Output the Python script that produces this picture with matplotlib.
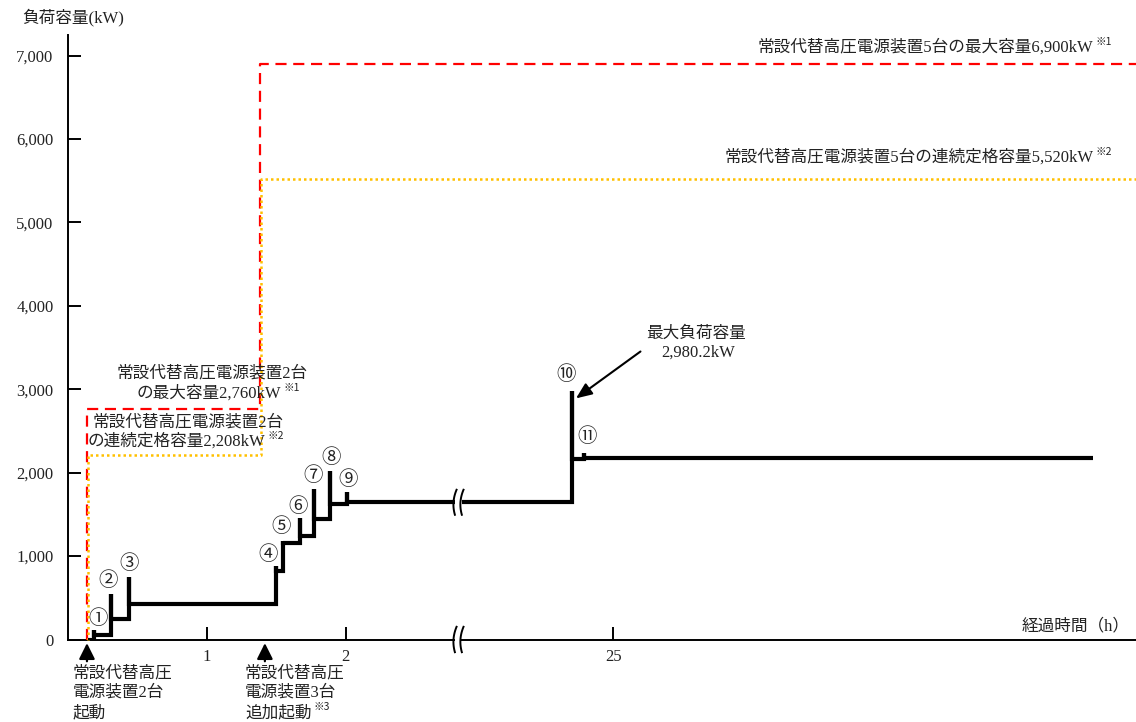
import numpy as np
import matplotlib
matplotlib.use("Agg")
import matplotlib.pyplot as plt
import matplotlib.transforms as mtrans
from matplotlib.patches import Rectangle
from matplotlib.text import Annotation

# ---------------- data ----------------
event_labels = ["①", "②", "③", "④", "⑤", "⑥", "⑦", "⑧", "⑨", "⑩", "⑪"]
start_time = 0.15                      # h, load line starts
event_times = [0.19, 0.31, 0.44, 1.50, 1.55, 1.67, 1.77, 1.89, 2.01, 24.70, 24.79]
peak_load = [110, 550, 750, 880, 1180, 1455, 1805, 2015, 1765, 2980.2, 2240]
steady_load = [55, 240, 430, 820, 1155, 1235, 1440, 1620, 1645, 2165, 2180]
end_time = 28.45

cap_times = [0.14, 1.385]              # 2 units start / 3 more units start
cap_max = [2760, 6900]                 # kW
cap_cont = [2208, 5520]                # kW
start_arrow_times = [0.14, 1.42]

y_ticks = [0, 1000, 2000, 3000, 4000, 5000, 6000, 7000]
y_tick_labels = ["0", "1,000", "2,000", "3,000", "4,000", "5,000", "6,000", "7,000"]
x_ticks = [1, 2, 25]
x_tick_labels = ["1", "2", "25"]

# ---------------- broken time axis ----------------
B1 = 2.81
OFF = 21.072
B2 = B1 + OFF


def fwd(t):
    t = np.asarray(t, dtype=float)
    out = np.where(t <= B1, t, np.where(t >= B2, t - OFF, B1))
    return np.where(np.isnan(t), np.nan, out)


def inv(u):
    u = np.asarray(u, dtype=float)
    return np.where(u <= B1, u, u + OFF)


plt.rcParams["font.family"] = ["Liberation Serif", "Noto Sans CJK JP"]
TXT = "#222222"
FS = 12

W, H = 1136, 722
fig = plt.figure(figsize=(W / 100, H / 100), dpi=100)
ax = fig.add_axes([67.5 / W, (H - 639.5) / H, 1 - 67.5 / W, 604.5 / H])
ax.set_xscale("function", functions=(fwd, inv))
x_right = float(inv(7.687))
ax.set_xlim(0, x_right)
ax.set_ylim(0, 7246)

for s in ["top", "right"]:
    ax.spines[s].set_visible(False)
for s in ["left", "bottom"]:
    ax.spines[s].set_linewidth(1.4)
    ax.spines[s].set_color("black")

ax.set_yticks(y_ticks)
ax.set_yticklabels(y_tick_labels)
ax.set_xticks(x_ticks)
ax.set_xticklabels(x_tick_labels)
ax.minorticks_off()
ax.tick_params(axis="both", direction="in", length=9.4, width=1.4, colors="black",
               labelsize=FS, labelcolor=TXT)
ax.tick_params(axis="y", pad=10)
ax.tick_params(axis="x", pad=7)

# ---------------- capacity lines ----------------
ax.plot([cap_times[0], cap_times[0], cap_times[1], cap_times[1], x_right],
        [0, cap_max[0], cap_max[0], cap_max[1], cap_max[1]],
        color="#ff0000", lw=1.6, dashes=(5, 3), zorder=3, clip_on=False)
ax.plot([cap_times[0] + 0.005, cap_times[0] + 0.005, cap_times[1] + 0.005, cap_times[1] + 0.005, x_right],
        [0, cap_cont[0], cap_cont[0], cap_cont[1], cap_cont[1]],
        color="#ffc000", lw=1.8, linestyle=(0, (1, 1.2)), zorder=3, clip_on=False)

# ---------------- load step line ----------------
xs = [start_time]
ys = [0.0]
prev = 0.0
for t, p, s in zip(event_times, peak_load, steady_load):
    xs += [t, t, t]
    ys += [prev, p, s]
    prev = s
xs.append(end_time)
ys.append(prev)
xs = np.array(xs, dtype=float)
ys = np.array(ys, dtype=float)

gap_lo = float(inv(2.785))
gap_hi = float(inv(2.835))
k = int(np.argmax(xs > gap_lo))
level = ys[k - 1]
xs = np.concatenate([xs[:k], [gap_lo, np.nan, gap_hi], xs[k:]])
ys = np.concatenate([ys[:k], [level, np.nan, level], ys[k:]])
ax.plot(xs, ys, color="black", lw=3.0, solid_joinstyle="miter",
        solid_capstyle="butt", zorder=4)

# ---------------- break marks ----------------
s_ = np.linspace(-1, 1, 25)
blend = mtrans.blended_transform_factory(ax.transData, ax.transAxes)
for uc in (2.785, 2.835):
    uu = uc + 0.016 * (s_ ** 2) - 0.008 + 0.006 * s_
    ax.plot(inv(uu), level + 150 * s_, color="black", lw=1.4, zorder=5)
    ax.plot(inv(uu), 0.021 * s_, color="black", lw=1.4, zorder=5,
            transform=blend, clip_on=False)
ax.add_patch(Rectangle((float(inv(2.79)), -0.006), float(inv(2.83)) - float(inv(2.79)), 0.012,
                       transform=blend, facecolor="white", edgecolor="none",
                       zorder=4, clip_on=False))

# ---------------- event labels ----------------
label_off_px = [(4, 12), (-2, 13), (0, 13), (-8, 12), (-2, 15), (-2, 12),
                (0, 13), (1, 14), (1, 13), (-6, 16), (3, 16)]
for lbl, t, p, (dx, dy) in zip(event_labels, event_times, peak_load, label_off_px):
    ax.annotate(lbl, xy=(t, p), xytext=(dx * 0.72, dy * 0.72), textcoords="offset points",
                ha="center", va="center", fontsize=14, color=TXT,
                family=["Noto Sans CJK JP"], zorder=6)


def sup(artist, s):
    ax.annotate(s, xy=(1, 0.55), xycoords=artist, xytext=(1.5, 0), textcoords="offset points",
                ha="left", va="bottom", fontsize=7.5, color=TXT,
                family=["Noto Sans CJK JP", "Liberation Serif"])


# 5-unit capacity texts
t1 = ax.text(28.453, 7096, f"常設代替高圧電源装置5台の最大容量{cap_max[1]:,}kW",
             ha="right", va="center", fontsize=FS, color=TXT, zorder=6)
sup(t1, "※1")
t2 = ax.text(28.453, 5777, f"常設代替高圧電源装置5台の連続定格容量{cap_cont[1]:,}kW",
             ha="right", va="center", fontsize=FS, color=TXT, zorder=6)
sup(t2, "※2")

# 2-unit capacity texts
ax.text(1.043, 3188, "常設代替高圧電源装置2台", ha="center", va="center",
        fontsize=FS, color=TXT, zorder=6)
t3 = ax.text(1.018, 2949, f"の最大容量{cap_max[0]:,}kW", ha="center", va="center",
             fontsize=FS, color=TXT, zorder=6)
sup(t3, "※1")
ax.text(0.18, 2601, "常設代替高圧電源装置2台", ha="left", va="center",
        fontsize=FS, color=TXT, zorder=6)
t4 = ax.text(0.144, 2373, f"の連続定格容量{cap_cont[0]:,}kW", ha="left", va="center",
             fontsize=FS, color=TXT, zorder=6)
sup(t4, "※2")

# max load annotation
ax.annotate("", xy=(event_times[9] + 0.03, peak_load[9] - 90), xytext=(25.194, 3452),
            arrowprops=dict(arrowstyle="-|>,head_length=0.6,head_width=0.25",
                            color="black", lw=1.5, shrinkA=0, shrinkB=0,
                            mutation_scale=16), zorder=6)
ax.text(25.597, 3668, "最大負荷容量", ha="center", va="center", fontsize=FS, color=TXT)
ax.text(25.612, 3440, f"{peak_load[9]:,.1f}kW", ha="center", va="center", fontsize=FS, color=TXT)

# start arrows below axis
for t in start_arrow_times:
    ax.annotate("", xy=(t, -0.006), xycoords=blend, xytext=(t, -0.036), textcoords=blend,
                arrowprops=dict(arrowstyle="-|>,head_length=0.6,head_width=0.3",
                                color="black", lw=1.6, shrinkA=0, shrinkB=0,
                                mutation_scale=16), annotation_clip=False)


def ftext(x, y, s, **kw):
    return fig.text(x / W, 1 - y / H, s, fontsize=FS, color=TXT, va="center", **kw)


ftext(22, 17, "負荷容量(kW)", ha="left")
ftext(1130, 626, "経過時間（h）", ha="right")

ftext(73, 673, "常設代替高圧", ha="left")
ftext(73, 693, "電源装置2台", ha="left")
ftext(73, 713, "起動", ha="left")
ftext(245, 673, "常設代替高圧", ha="left")
ftext(245, 693, "電源装置3台", ha="left")
b3 = ftext(245, 713, "追加起動", ha="left")
fig.add_artist(Annotation(
    "※3", xy=(1, 0.55), xycoords=b3, xytext=(1.5, 0), textcoords="offset points",
    ha="left", va="bottom", fontsize=7.5, color=TXT,
    family=["Noto Sans CJK JP", "Liberation Serif"]))

fig.savefig("out.png", dpi=100)
